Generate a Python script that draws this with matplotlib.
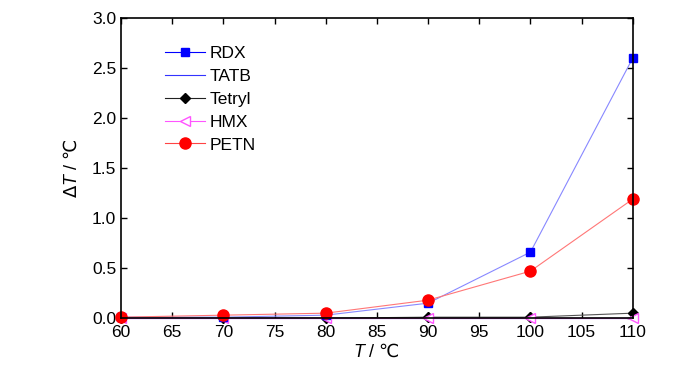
import numpy as np
from matplotlib import pyplot as plt

plt.rcParams['font.family'] = ['Liberation Sans', 'DejaVu Sans']
plt.rcParams['mathtext.fontset'] = 'custom'
plt.rcParams['mathtext.rm'] = 'DejaVu Sans'
plt.rcParams['mathtext.it'] = 'Liberation Sans:italic'

temps = [60, 70, 80, 90, 100, 110]
rdx = [0.01, 0.01, 0.03, 0.15, 0.66, 2.60]
tatb = [0.0, 0.0, 0.0, 0.0, 0.0, 0.0]
tetryl = [0.0, 0.0, 0.0, 0.01, 0.01, 0.05]
hmx = [0.0, 0.0, 0.0, 0.0, 0.0, 0.0]
petn = [0.01, 0.03, 0.05, 0.18, 0.47, 1.19]


def main():
    fig = plt.figure(figsize=(7, 3.73), dpi=100)
    ax = fig.add_axes([0.173, 0.147, 0.731, 0.805])

    ax.plot(temps, tatb, color='#3333ff', lw=0.8, label='TATB',
            clip_on=False)
    ax.plot(temps, tetryl, color='#555555', lw=0.8, marker='D', ms=5,
            mfc='black', mec='black', label='Tetryl', clip_on=False)
    ax.plot(temps, hmx, color='#ff55ff', lw=0.8, marker='<', ms=7,
            mfc='white', mec='#ff55ff', label='HMX', clip_on=False)
    ax.plot(temps, rdx, color='#8888ff', lw=0.8, marker='s', ms=6,
            mfc='#0000ff', mec='#0000ff', label='RDX', clip_on=False)
    ax.plot(temps, petn, color='#ff7777', lw=0.8, marker='o', ms=8,
            mfc='#ff0000', mec='#ff0000', label='PETN', clip_on=False)

    ax.set_xlim(60, 110)
    ax.set_ylim(0, 3.0)
    ax.set_xticks(np.arange(60, 111, 5))
    ax.set_yticks(np.arange(0, 3.01, 0.5))
    ax.set_yticklabels(['%.1f' % v for v in np.arange(0, 3.01, 0.5)])
    ax.tick_params(direction='in', top=True, right=True, labelsize=12.5,
                   length=4, width=1)
    ax.tick_params(axis='x', pad=5)
    for s in ax.spines.values():
        s.set_linewidth(1.2)

    ax.set_xlabel(r'$\mathit{T}$ / $\mathrm{℃}$', fontsize=13, labelpad=2)
    ax.set_ylabel(r'$\Delta\mathit{T}$ / $\mathrm{℃}$', fontsize=13,
                  labelpad=8)

    h, l = ax.get_legend_handles_labels()
    order = [l.index(n) for n in ['RDX', 'TATB', 'Tetryl', 'HMX', 'PETN']]
    leg = ax.legend([h[i] for i in order], [l[i] for i in order],
                    loc='upper left', bbox_to_anchor=(0.055, 0.96),
                    frameon=False, fontsize=12.5, handlelength=2.3,
                    labelspacing=0.45, handletextpad=0.3)
    # legend lines drawn in full colour, plot lines lighter
    for line, c in zip(leg.get_lines(), ['#0000ff', '#3333ff', '#222222',
                                         '#ff55ff', '#ff4444']):
        line.set_color(c)

    plt.savefig('out.png')


if __name__ == '__main__':
    main()
